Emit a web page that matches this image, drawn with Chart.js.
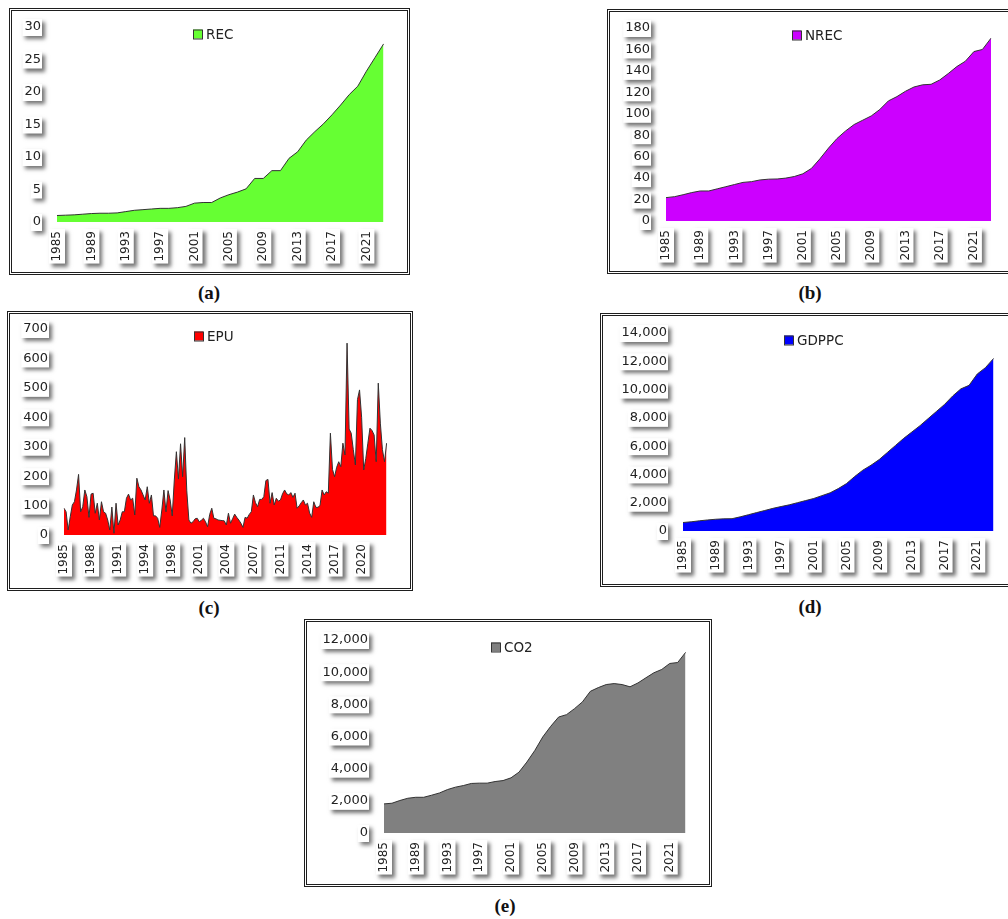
<!DOCTYPE html>
<html>
<head>
<meta charset="utf-8">
<script src="https://cdn.jsdelivr.net/npm/chart.js@4.4.1/dist/chart.umd.min.js"></script>
<style>
  html, body { margin: 0; padding: 0; background: #fff; width: 1008px; height: 919px; overflow: hidden; position: relative; }
  .marco { position: absolute; border: 3px double #1e1e1e; box-sizing: border-box; background: #fff; }
  .marco canvas { position: absolute; left: 0; top: 0; }
  .rotulo { position: absolute; font: bold 19px "Liberation Serif", "Times New Roman", serif; color: #111; transform: translate(-50%, -50%); }
</style>
</head>
<body>
<script>
// años (series anuales)
const anios = ["1985","1986","1987","1988","1989","1990","1991","1992","1993","1994",
  "1995","1996","1997","1998","1999","2000","2001","2002","2003","2004",
  "2005","2006","2007","2008","2009","2010","2011","2012","2013","2014",
  "2015","2016","2017","2018","2019","2020","2021","2022","2023"];

// trimestres (serie EPU)
const trimestres = [];
for (let a = 1985; a <= 2023; a++) {
  for (let q = 1; q <= 4; q++) trimestres.push(a + "Q" + q);
}

const rec = [1.0,1.05,1.1,1.2,1.3,1.35,1.35,1.4,1.6,1.8,
  1.9,2.0,2.1,2.1,2.2,2.4,2.9,3.0,3.0,3.7,
  4.2,4.6,5.1,6.7,6.7,7.9,7.9,9.8,10.8,12.6,
  13.9,15.1,16.5,18.0,19.6,20.9,23.2,25.3,27.4];

const nrec = [21.8,22.7,24.5,26.5,28,28,30,32,34,36,
  36.7,38.3,39,39.2,40,41.5,44,49,58,68,
  77,84,90,94,98,104,112,116,121,125,
  127,127.5,131.5,137.5,144,149,158,160,170.5];

const epu = [91,79,17,62,102,113,153,206,79,96,
  153,130,60,139,142,74,108,51,113,79,
  74,51,17,95,6,108,34,51,79,79,
  125,139,119,125,68,193,164,153,136,119,
  164,108,136,65,65,57,26,85,153,79,
  151,119,65,187,283,190,310,198,331,150,
  51,40,45,55,57,45,50,57,45,28,
  70,91,57,55,51,50,49,48,34,74,
  40,55,71,60,51,40,26,60,57,70,
  79,136,110,96,121,121,130,185,189,108,
  144,102,125,115,119,140,153,140,136,144,
  128,142,91,99,110,119,102,108,75,60,
  113,94,94,100,153,136,147,142,346,223,
  198,230,249,232,312,272,652,360,346,290,
  238,460,493,400,221,260,312,363,355,340,
  249,516,380,290,249,312];

const gdppc = [600,650,720,780,830,860,870,1000,1150,1300,
  1450,1600,1730,1850,2000,2150,2300,2500,2700,3000,
  3350,3850,4300,4650,5050,5550,6050,6550,7000,7450,
  7950,8450,8950,9550,10050,10300,11100,11550,12200];

const co2 = [1810,1850,2020,2160,2220,2220,2350,2490,2700,2850,
  2950,3080,3100,3100,3200,3260,3430,3780,4410,5130,
  5970,6630,7210,7360,7730,8150,8810,9040,9230,9290,
  9230,9090,9330,9650,9960,10170,10540,10600,11230];

const familia = '"DejaVu Sans", Verdana, sans-serif';
const fuenteX = { family: familia, size: 12 };
const fuenteY = { family: familia, size: 13 };

// cajas blancas con sombra detrás de las etiquetas de los ejes
const sombraEtiquetas = {
  id: "sombraEtiquetas",
  beforeDraw(chart) {
    const ctx = chart.ctx;
    const ejeY = chart.scales.y;
    const ejeX = chart.scales.x;
    ctx.save();
    ctx.fillStyle = "#ffffff";
    ctx.shadowColor = "rgba(0,0,0,0.55)";
    ctx.shadowBlur = 4;
    ctx.shadowOffsetX = 3;
    ctx.shadowOffsetY = 3;
    ctx.font = "13px " + familia;
    ejeY.ticks.forEach((t, i) => {
      const w = ctx.measureText(t.label).width;
      const py = ejeY.getPixelForTick(i);
      const xr = ejeY.right - ejeY.options.ticks.padding;
      ctx.fillRect(xr - w - 2, py - 8, w + 3, 17);
    });
    ctx.font = "12px " + familia;
    ejeX.ticks.forEach((t, i) => {
      if (!t.label) return;
      const w = ctx.measureText(t.label).width;
      const px = ejeX.getPixelForTick(i);
      const yt = ejeX.top + ejeX.options.ticks.padding;
      ctx.fillRect(px - 8, yt - 2, 16, w + 4);
    });
    ctx.restore();
  }
};

// leyenda centrada arriba, dentro del gráfico
const leyendaArriba = {
  id: "leyendaArriba",
  afterDraw(chart) {
    const ds = chart.data.datasets[0];
    const ctx = chart.ctx;
    ctx.save();
    ctx.font = "13.5px " + familia;
    const tw = ctx.measureText(ds.label).width;
    const caja = 9;
    const total = caja + 4 + tw;
    const x0 = Math.round(chart.width / 2 - total / 2 + 4);
    const yc = chart.chartArea.top + 7;
    ctx.fillStyle = ds.backgroundColor;
    ctx.fillRect(x0, yc - caja / 2, caja, caja);
    ctx.strokeStyle = "#333";
    ctx.lineWidth = 1;
    ctx.strokeRect(x0 + 0.5, yc - caja / 2 + 0.5, caja, caja);
    ctx.fillStyle = "#222";
    ctx.textBaseline = "middle";
    ctx.fillText(ds.label, x0 + caja + 4, yc + 1);
    ctx.restore();
  }
};

const miles = (v) => v.toLocaleString("en-US");

const paneles = [
  { nombre: "REC", color: "#66ff33", etiquetas: anios, datos: rec, max: 30, paso: 5, cada: 4,
    marco: [9, 8, 410, 275], area: [57, 27, 390, 222], rotulo: "(a)", rotuloPos: [209, 293], formato: null },
  { nombre: "NREC", color: "#cc00ff", etiquetas: anios, datos: nrec, max: 180, paso: 20, cada: 4,
    marco: [607, 9, 1019, 274], area: [666, 28, 991, 221], rotulo: "(b)", rotuloPos: [810, 293], formato: null },
  { nombre: "EPU", color: "#ff0000", etiquetas: trimestres, datos: epu, max: 700, paso: 100, cada: 13,
    marco: [7, 311, 413, 591], area: [64, 329, 394, 535], rotulo: "(c)", rotuloPos: [209, 608], formato: null },
  { nombre: "GDPPC", color: "#0000ff", etiquetas: anios, datos: gdppc, max: 14000, paso: 2000, cada: 4,
    marco: [600, 313, 1020, 587], area: [683, 333, 997, 531], rotulo: "(d)", rotuloPos: [810, 607], formato: miles },
  { nombre: "CO2", color: "#808080", etiquetas: anios, datos: co2, max: 12000, paso: 2000, cada: 4,
    marco: [304, 619, 712, 887], area: [384, 640, 693, 833], rotulo: "(e)", rotuloPos: [505, 906], formato: miles }
];

paneles.forEach((p) => {
  const [ml, mt, mr, mb] = p.marco;
  const [al, at, ar, ab] = p.area;
  const il = ml + 3, it = mt + 3, ir = mr - 3, ib = mb - 3;

  const div = document.createElement("div");
  div.className = "marco";
  div.style.left = ml + "px";
  div.style.top = mt + "px";
  div.style.width = (mr - ml) + "px";
  div.style.height = (mb - mt) + "px";
  const canvas = document.createElement("canvas");
  canvas.width = ir - il;
  canvas.height = ib - it;
  div.appendChild(canvas);
  document.body.appendChild(div);

  const rot = document.createElement("div");
  rot.className = "rotulo";
  rot.textContent = p.rotulo;
  rot.style.left = p.rotuloPos[0] + "px";
  rot.style.top = p.rotuloPos[1] + "px";
  document.body.appendChild(rot);

  const anchoY = al - il;
  const altoX = ib - ab;

  new Chart(canvas, {
    type: "line",
    data: {
      labels: p.etiquetas,
      datasets: [
        {
          label: p.nombre,
          data: p.datos,
          fill: "origin",
          backgroundColor: p.color,
          borderColor: "#333333",
          borderWidth: 1,
          pointRadius: 0,
          tension: 0,
        },
      ],
    },
    options: {
      responsive: false,
      animation: false,
      layout: {
        padding: { top: at - it, right: ir - ar, bottom: 0, left: 0 },
      },
      plugins: {
        legend: { display: false },
        tooltip: { enabled: false },
      },
      scales: {
        x: {
          grid: { display: false, drawTicks: false },
          border: { display: false },
          ticks: {
            autoSkip: false,
            minRotation: 90,
            maxRotation: 90,
            padding: 9,
            color: "#222",
            font: fuenteX,
            callback: function (v, i) {
              return i % p.cada === 0 ? this.getLabelForValue(v).slice(0, 4) : "";
            },
          },
          afterFit: (s) => { s.height = altoX; },
        },
        y: {
          min: 0,
          max: p.max,
          grid: { display: false, drawTicks: false },
          border: { display: false },
          ticks: {
            stepSize: p.paso,
            padding: 16,
            color: "#222",
            font: fuenteY,
            callback: (v) => (p.formato ? p.formato(v) : v),
          },
          afterFit: (s) => {
            s.width = anchoY;
            s.paddingTop = 0;
            s.paddingBottom = 0;
          },
        },
      },
    },
    plugins: [sombraEtiquetas, leyendaArriba],
  });
});
</script>
</body>
</html>
